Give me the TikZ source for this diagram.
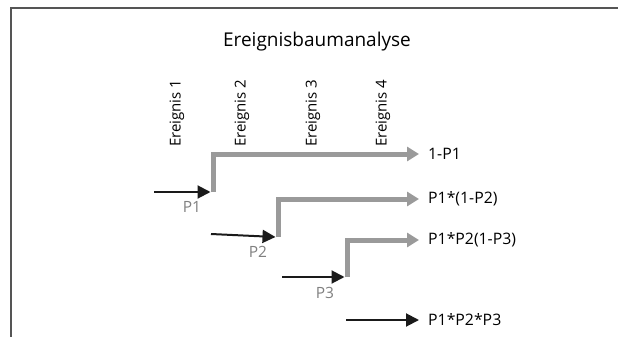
\documentclass[tikz,border=0pt]{standalone}
\usepackage{fontspec}
\setmainfont{Open Sans}
\usetikzlibrary{arrows.meta}
\definecolor{branchgray}{HTML}{9A9A9A}
\definecolor{labelgray}{HTML}{808080}
\definecolor{framegray}{HTML}{555555}
\definecolor{inkblack}{HTML}{1A1A1A}
\begin{document}
\begin{tikzpicture}[x=1pt,y=-1pt,
  branch/.style={draw=branchgray, line width=5pt, line join=miter,
    -{Triangle[length=12pt,width=14pt]}},
  trigger/.style={draw=inkblack, line width=2pt,
    -{Triangle[length=13pt,width=13pt]}},
  outcome/.style={anchor=west, inner sep=0pt, font=\fontsize{15.8}{18}\selectfont},
  prob/.style={inner sep=0pt, text=labelgray, font=\fontsize{15.5}{17}\selectfont},
  eventlabel/.style={rotate=90, anchor=west, inner sep=0pt, font=\fontsize{15}{17}\selectfont},
  frame/.style={draw=framegray, line width=2pt}]
\useasboundingbox (0,0) rectangle (618,337);

% open frame: top and left edges
\coordinate (fr) at (618,8.5);
\coordinate (fc) at (10.5,8.5);
\coordinate (fb) at (10.5,337);
\draw[frame] (fr) -- (fc) -- (fb);

% title and event columns
\node[inner sep=0pt, font=\fontsize{19}{21}\selectfont] (title) at (317,42) {Ereignisbaumanalyse};
\node[eventlabel] (ev1) at (177,147) {Ereignis 1};
\node[eventlabel] (ev2) at (242,147) {Ereignis 2};
\node[eventlabel] (ev3) at (313,147) {Ereignis 3};
\node[eventlabel] (ev4) at (383,147) {Ereignis 4};

% outcomes
\node[outcome] (o1) at (428,154) {1-P1};
\node[outcome] (o2) at (428,199) {P1*(1-P2)};
\node[outcome] (o3) at (428,240) {P1*P2(1-P3)};
\node[outcome] (o4) at (428,320) {P1*P2*P3};

% branch points
\coordinate (s1) at (154,192);
\coordinate (b1) at (213,192);
\coordinate (s2) at (211,234);
\coordinate (b2) at (278,237);
\coordinate (s3) at (282,277);
\coordinate (b3) at (347,277);
\coordinate (s4) at (346,320);

% probability labels
\node[prob] (p1) at (192,207) {P1};
\node[prob] (p2) at (258,252) {P2};
\node[prob] (p3) at (325,293) {P3};

% grey branches to the outcomes
\draw[branch] (b1) |- ([xshift=-9pt]o1.west);
\draw[branch] (b2) |- ([xshift=-9pt]o2.west);
\draw[branch] (b3) |- ([xshift=-9pt]o3.west);

% black trigger arrows
\draw[trigger] (s1) -- ([xshift=-2.5pt]b1);
\draw[trigger] (s2) -- ([xshift=-2.5pt]b2);
\draw[trigger] (s3) -- ([xshift=-2.5pt]b3);
\draw[trigger] (s4) -- ([xshift=-9pt]o4.west);
\end{tikzpicture}
\end{document}
